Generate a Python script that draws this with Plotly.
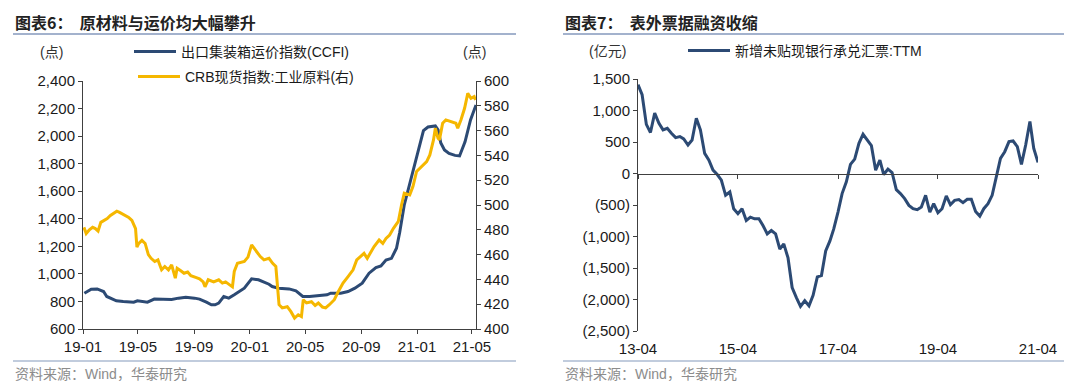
import plotly.graph_objects as go
import pandas as pd

# ---------------- data: left panel ----------------
ccfi_dates = [
    "2019-01-04", "2019-01-19", "2019-02-01", "2019-02-15", "2019-02-22", "2019-03-08",
    "2019-03-15", "2019-03-30", "2019-04-22", "2019-04-30", "2019-05-22", "2019-06-06",
    "2019-07-14", "2019-07-29", "2019-08-14", "2019-09-02", "2019-09-13", "2019-09-28",
    "2019-10-09", "2019-10-17", "2019-10-25", "2019-11-05", "2019-11-16", "2019-11-28",
    "2019-12-20", "2020-01-05", "2020-01-20", "2020-02-12", "2020-02-19", "2020-03-04",
    "2020-03-27", "2020-04-11", "2020-04-26", "2020-05-11", "2020-06-03", "2020-06-18",
    "2020-06-26", "2020-07-18", "2020-08-03", "2020-08-18", "2020-09-03", "2020-09-18",
    "2020-10-03", "2020-10-14", "2020-10-25", "2020-11-06", "2020-11-17", "2020-11-24",
    "2020-12-04", "2020-12-19", "2021-01-04", "2021-01-15", "2021-01-25", "2021-02-10",
    "2021-02-16", "2021-02-22", "2021-03-02", "2021-03-12", "2021-03-25", "2021-04-04",
    "2021-04-16", "2021-04-28", "2021-05-10",
]
ccfi_values = [
    860, 889, 891, 872, 836, 819,
    805, 800, 795, 805, 795, 817,
    815, 824, 831, 824, 817, 795,
    776, 776, 788, 836, 824, 848,
    896, 964, 957, 925, 908, 896,
    891, 877, 836, 836, 841, 848,
    860, 860, 872, 896, 933, 1005,
    1046, 1058, 1101, 1113, 1186, 1300,
    1500, 1694, 1887, 2040, 2066, 2074,
    2045, 1950, 1900, 1875, 1860, 1856,
    1959, 2117, 2226,
]

crb_dates = [
    "2019-01-03", "2019-01-08", "2019-01-15", "2019-01-22", "2019-01-28", "2019-02-03",
    "2019-02-09", "2019-02-17", "2019-02-23", "2019-03-02", "2019-03-09", "2019-03-16",
    "2019-03-22", "2019-03-27", "2019-04-04", "2019-04-11", "2019-04-18", "2019-04-26",
    "2019-04-29", "2019-05-03", "2019-05-10", "2019-05-17", "2019-05-24", "2019-05-30",
    "2019-06-07", "2019-06-14", "2019-06-22", "2019-06-29", "2019-07-07", "2019-07-14",
    "2019-07-22", "2019-07-26", "2019-08-03", "2019-08-10", "2019-08-18", "2019-08-25",
    "2019-09-06", "2019-09-13", "2019-09-21", "2019-09-25", "2019-10-02", "2019-10-14",
    "2019-10-25", "2019-11-02", "2019-11-09", "2019-11-17", "2019-11-24", "2019-11-28",
    "2019-12-05", "2019-12-20", "2019-12-28", "2020-01-05", "2020-01-13", "2020-01-24",
    "2020-02-01", "2020-02-12", "2020-02-20", "2020-02-27", "2020-03-05", "2020-03-12",
    "2020-03-23", "2020-03-31", "2020-04-08", "2020-04-16", "2020-04-23", "2020-04-27",
    "2020-05-04", "2020-05-15", "2020-05-23", "2020-05-30", "2020-06-08", "2020-06-15",
    "2020-06-23", "2020-07-04", "2020-07-11", "2020-07-23", "2020-08-03", "2020-08-14",
    "2020-08-22", "2020-08-30", "2020-09-07", "2020-09-14", "2020-09-22", "2020-09-29",
    "2020-10-10", "2020-10-18", "2020-10-25", "2020-11-02", "2020-11-10", "2020-11-21",
    "2020-11-28", "2020-12-04", "2020-12-16", "2020-12-23", "2020-12-31", "2021-01-11",
    "2021-01-22", "2021-01-29", "2021-02-06", "2021-02-10", "2021-02-16", "2021-02-19",
    "2021-02-26", "2021-03-05", "2021-03-16", "2021-03-27", "2021-03-31", "2021-04-07",
    "2021-04-15", "2021-04-22", "2021-04-29", "2021-05-06", "2021-05-09",
]
crb_values = [
    482, 477, 480, 482, 481, 479,
    486, 488, 489, 491.5, 493, 495,
    494, 493, 491.5, 490, 487.5, 481,
    466, 469, 471.5, 469, 460, 457,
    454.4, 455.7, 447.7, 450.4, 447.7, 451.7,
    441, 449, 447, 445, 446, 443,
    441.5, 440.5, 438, 434, 439.7, 438,
    439.7, 437, 438, 435.6, 434, 446.4,
    453, 454.4, 458, 467.8, 463.8, 458.4,
    455.7, 457, 453, 450.4, 419.6, 417,
    418, 414, 408.8, 411.5, 410, 423.6,
    421, 422, 419, 421, 417.7, 417,
    419.6, 423.6, 429, 437, 442.3, 447.7,
    455.7, 458.4, 461, 457, 462.4, 466.5,
    471.8, 469, 473, 475.8, 481, 486.7,
    500, 509.5, 508.2, 514.9, 527, 531,
    535, 540.4, 552.5, 561.9, 553.8, 552.5,
    565.9, 568.6, 567.2, 565.9, 561.9, 568.6,
    578, 590, 586, 587.4, 584.7,
]

left_tick_dates = ["2019-01-01", "2019-05-01", "2019-09-01", "2020-01-01",
                   "2020-05-01", "2020-09-01", "2021-01-01", "2021-05-01"]
left_tick_text = ["19-01", "19-05", "19-09", "20-01", "20-05", "20-09", "21-01", "21-05"]

# ---------------- data: right panel ----------------
ttm_start = "2013-04-01"
ttm_values = [
    1410, 1250, 780, 650, 958, 798, 692, 718, 639, 570,
    586, 548, 452, 532, 878, 692, 319, 213, 53, -16,
    -107, -346, -293, -559, -639, -559, -745, -692, -719, -719,
    -825, -958, -905, -958, -1198, -1118, -1340, -1810, -1970, -2110,
    -2020, -2100, -1935, -1640, -1620, -1230, -1070, -880, -612, -319,
    -133, 144, 229, 479, 623, 532, 442, 53, 213, -16,
    69, 16, -256, -319, -399, -506, -559, -575, -532, -346,
    -612, -479, -623, -559, -356, -495, -426, -415, -463, -410,
    -410, -602, -676, -559, -479, -346, -53, 240, 346, 506,
    516, 426, 144, 452, 825, 399, 176,
]
ttm_dates = pd.date_range(ttm_start, periods=len(ttm_values), freq="MS")

right_tick_dates = ["2013-04-01", "2015-04-01", "2017-04-01", "2019-04-01", "2021-04-01"]
right_tick_text = ["13-04", "15-04", "17-04", "19-04", "21-04"]
right_y_vals = [-2500, -2000, -1500, -1000, -500, 0, 500, 1000, 1500]
right_y_text = ["(2,500)", "(2,000)", "(1,500)", "(1,000)", "(500)", "0", "500", "1,000", "1,500"]

# ---------------- styling ----------------
W, H = 1080, 381
BLUE = "#2C4A74"
YELLOW = "#F5B700"
RULE = "#8499BC"
AX = "#404040"
FONT = "Liberation Sans, Arial, Noto Sans CJK SC, sans-serif"
CJK = "Noto Sans CJK SC, Liberation Sans, sans-serif"


def px(x):
    return x / W


def py(y):
    return 1 - y / H


fig = go.Figure()

fig.add_trace(go.Scatter(
    x=ccfi_dates, y=ccfi_values, mode="lines", name="出口集装箱运价指数(CCFI)",
    line=dict(color=BLUE, width=3), xaxis="x", yaxis="y", legend="legend",
))
fig.add_trace(go.Scatter(
    x=crb_dates, y=crb_values, mode="lines", name="CRB现货指数:工业原料(右)",
    line=dict(color=YELLOW, width=3), xaxis="x", yaxis="y2", legend="legend2",
))
fig.add_trace(go.Scatter(
    x=ttm_dates, y=ttm_values, mode="lines", name="新增未贴现银行承兑汇票:TTM",
    line=dict(color=BLUE, width=3), xaxis="x3", yaxis="y3", legend="legend3",
))
# empty helper trace so the zero-level category axis (x4/y4) is rendered
fig.add_trace(go.Scatter(
    x=[], y=[], mode="lines", showlegend=False, hoverinfo="skip",
    xaxis="x4", yaxis="y4",
))

tickfont = dict(family=FONT, size=15, color="#1a1a1a")

ydom_l = [py(321), py(73)]
ydom_r = [py(323), py(71)]
Y3_RANGE = [-2500, 1500]
zero_pos = ydom_r[0] + (0 - Y3_RANGE[0]) / (Y3_RANGE[1] - Y3_RANGE[0]) * (ydom_r[1] - ydom_r[0])
xdom_r = [px(630), px(1030)]
x3_range = ["2013-04-01", "2021-04-01"]

legend_common = dict(xanchor="left", yanchor="middle", bgcolor="rgba(0,0,0,0)",
                     font=dict(family=FONT, size=14, color="#1a1a1a"), itemwidth=42)

fig.update_layout(
    width=W, height=H,
    margin=dict(l=0, r=0, t=0, b=0, autoexpand=False),
    paper_bgcolor="white", plot_bgcolor="rgba(0,0,0,0)",
    font=dict(family=FONT, size=14, color="#1a1a1a"),
    xaxis=dict(
        domain=[px(75), px(468)], anchor="y", type="date",
        range=["2019-01-01", "2021-05-10"],
        tickvals=left_tick_dates, ticktext=left_tick_text,
        ticks="outside", ticklen=4, tickcolor=AX,
        showline=True, linecolor=AX, linewidth=1,
        showgrid=False, zeroline=False, tickfont=tickfont,
    ),
    yaxis=dict(
        domain=ydom_l, anchor="x", range=[600, 2400], dtick=200, tickformat=",",
        ticks="outside", ticklen=4, tickcolor=AX,
        showline=True, linecolor=AX, linewidth=1,
        showgrid=False, zeroline=False, tickfont=tickfont,
    ),
    yaxis2=dict(
        overlaying="y", side="right", anchor="x", range=[400, 600], dtick=20,
        ticks="outside", ticklen=4, tickcolor=AX,
        showline=True, linecolor=AX, linewidth=1,
        showgrid=False, zeroline=False, tickfont=tickfont,
    ),
    xaxis3=dict(
        domain=xdom_r, anchor="y3", type="date", range=x3_range,
        tickvals=right_tick_dates, ticktext=right_tick_text,
        ticks="outside", ticklen=4, tickcolor="rgba(0,0,0,0)",
        showline=False, showgrid=False, zeroline=False, tickfont=tickfont,
    ),
    yaxis3=dict(
        domain=ydom_r, anchor="x3", range=Y3_RANGE,
        tickvals=right_y_vals, ticktext=right_y_text,
        ticks="outside", ticklen=4, tickcolor=AX,
        showline=True, linecolor=AX, linewidth=1,
        showgrid=False, zeroline=False, tickfont=tickfont,
    ),
    # helper axis pair: draws the category axis line with tick marks along y = 0
    xaxis4=dict(
        domain=xdom_r, anchor="y4", type="date", range=x3_range,
        tickvals=right_tick_dates, showticklabels=False,
        ticks="outside", ticklen=4, tickcolor=AX,
        showline=True, linecolor=AX, linewidth=1,
        showgrid=False, zeroline=False, fixedrange=True,
    ),
    yaxis4=dict(
        domain=[zero_pos, ydom_r[1]], anchor="x4", range=[0, 1],
        visible=False, showgrid=False, zeroline=False, fixedrange=True,
    ),
    legend=dict(x=px(121), y=py(44), **legend_common),
    legend2=dict(x=px(125), y=py(69), **legend_common),
    legend3=dict(x=px(675), y=py(43), **legend_common),
    showlegend=True,
)

# titles, rules, units, sources
ann = []
shapes = []
for x0, x1, title in [(5, 508, "<b>图表6：  原材料与运价均大幅攀升</b>"),
                      (555, 1056, "<b>图表7：  表外票据融资收缩</b>")]:
    ann.append(dict(text=title, x=px(x0), y=py(14), xref="paper", yref="paper",
                    xanchor="left", yanchor="middle", showarrow=False,
                    font=dict(family=CJK, size=16, color="#222")))
    shapes.append(dict(type="line", xref="paper", yref="paper",
                       x0=px(x0), x1=px(x1), y0=py(26), y1=py(26),
                       line=dict(color=RULE, width=1.5)))
    shapes.append(dict(type="line", xref="paper", yref="paper",
                       x0=px(x0), x1=px(x1), y0=py(353), y1=py(353),
                       line=dict(color=RULE, width=1.2)))
    ann.append(dict(text="资料来源：Wind，华泰研究", x=px(x0), y=py(366), xref="paper", yref="paper",
                    xanchor="left", yanchor="middle", showarrow=False,
                    font=dict(family=FONT, size=14, color="#8c8c8c")))

for x, y, t in [(43, 44, "(点)"), (466, 44, "(点)"), (599, 43, "(亿元)")]:
    ann.append(dict(text=t, x=px(x), y=py(y), xref="paper", yref="paper",
                    xanchor="center", yanchor="middle", showarrow=False,
                    font=dict(family=FONT, size=14, color="#333")))

fig.update_layout(annotations=ann, shapes=shapes)

fig.write_html("out.html")
